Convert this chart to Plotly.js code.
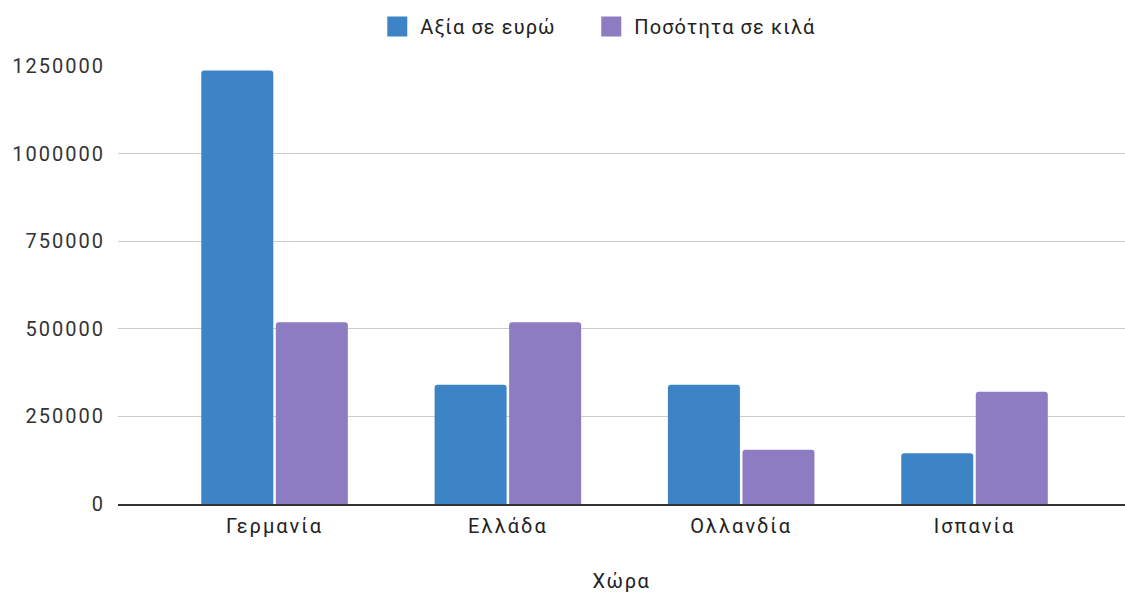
<!DOCTYPE html>
<html>
<head>
<meta charset="utf-8">
<script src="https://cdn.plot.ly/plotly-3.0.1.min.js"></script>
<style>
  html, body { margin: 0; padding: 0; background: #fff; }
  #chart { width: 1125px; height: 593px; }
  svg text { letter-spacing: 1.1px; }
  .xtick text, .ytick text { letter-spacing: 2px; }
  .g-xtitle text { letter-spacing: 1.6px; }
</style>
</head>
<body>
<div id="chart"></div>
<script>
const categories = ["Γερμανία", "Ελλάδα", "Ολλανδία", "Ισπανία"];
const seriesNames = ["Αξία σε ευρώ", "Ποσότητα σε κιλά"];
const valueEuro = [1237000, 340000, 340000, 145000];
const quantityKg = [519000, 519000, 155000, 320000];
const yTicks = [0, 250000, 500000, 750000, 1000000, 1250000];
const xTitle = "Χώρα";
const colors = ["#3d84c6", "#8e7cc3"];

const font = "Roboto, 'Liberation Sans', Arial, sans-serif";

const traces = [
  {
    type: "bar", name: seriesNames[0], x: categories, y: valueEuro,
    marker: { color: colors[0], cornerradius: 3 }, showlegend: false, hoverinfo: "skip"
  },
  {
    type: "bar", name: seriesNames[1], x: categories, y: quantityKg,
    marker: { color: colors[1], cornerradius: 3 }, showlegend: false, hoverinfo: "skip"
  },
  {
    type: "scatter", mode: "markers", name: seriesNames[0], x: [null], y: [null], legend: "legend",
    marker: { symbol: "square", size: 16, color: colors[0], line: { color: colors[0], width: 4 } }
  },
  {
    type: "scatter", mode: "markers", name: seriesNames[1], x: [null], y: [null], legend: "legend2",
    marker: { symbol: "square", size: 16, color: colors[1], line: { color: colors[1], width: 4 } }
  }
];

const legendBase = {
  orientation: "h", xanchor: "left", y: 1.09, yanchor: "middle",
  font: { family: font, size: 20, color: "#222222" },
  itemwidth: 36,
  itemclick: false, itemdoubleclick: false
};

const layout = {
  width: 1125, height: 593,
  margin: { l: 118, r: 0, t: 66, b: 89 },
  paper_bgcolor: "#ffffff", plot_bgcolor: "#ffffff",
  font: { family: font, size: 20, color: "#333333" },
  barmode: "group",
  bargap: 0.361,
  bargroupgap: 0.034,
  showlegend: true,
  legend: Object.assign({}, legendBase, { x: 0.2545 }),
  legend2: Object.assign({}, legendBase, { x: 0.467 }),
  xaxis: {
    type: "category",
    range: [-0.671, 3.645],
    showgrid: false, zeroline: false,
    showline: true, linecolor: "#333333", linewidth: 1.5,
    ticks: "", ticklabelstandoff: 3,
    tickfont: { family: font, size: 20, color: "#222222" },
    title: { text: xTitle, font: { family: font, size: 20, color: "#222222" }, standoff: 37 }
  },
  yaxis: {
    range: [0, 1250000],
    tickmode: "array", tickvals: yTicks, ticktext: yTicks.map(String),
    showgrid: true, gridcolor: "#cccccc", gridwidth: 1,
    zeroline: false, showline: false,
    ticks: "", ticklabelstandoff: 12,
    tickfont: { family: font, size: 20, color: "#333333" }
  }
};

Plotly.newPlot("chart", traces, layout, { staticPlot: true, displayModeBar: false });
</script>
</body>
</html>
